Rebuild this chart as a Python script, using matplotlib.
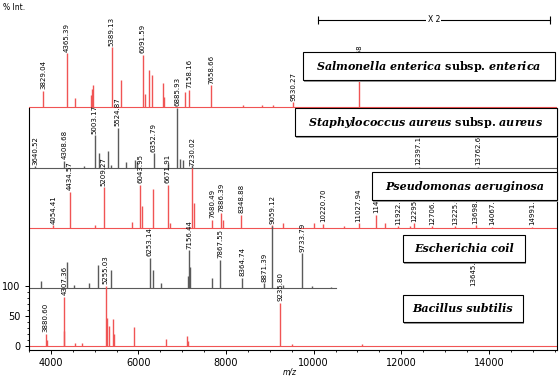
import matplotlib
matplotlib.use("Agg")
import matplotlib.pyplot as plt
from matplotlib.patches import Rectangle
from matplotlib.ticker import MultipleLocator, FixedLocator

plt.rcParams["mathtext.fontset"] = "custom"
plt.rcParams["mathtext.it"] = "DejaVu Serif:italic:bold"
plt.rcParams["mathtext.rm"] = "DejaVu Serif:bold"

# peaks per spectrum: m/z, relative intensity (%), peak label ('' = none)
sal_mz = [3829.04, 4365.39, 4550, 4910, 4940, 4965, 5389.13, 5600, 6091.59, 6150,
          6240, 6310, 6555, 6590, 7060, 7158.16, 7658.66, 8380, 8830, 9080, 9530.27, 11032.68]
sal_int = [27, 90, 15, 20, 30, 37, 100, 45, 87, 22, 62, 53, 40, 17, 25, 29, 36, 4, 4, 3, 8, 45]
sal_lab = ["3829.04", "4365.39", "", "", "", "", "5389.13", "", "6091.59", "", "", "", "", "",
           "", "7158.16", "7658.66", "", "", "", "9530.27", "11032.68"]

sta_mz = [3640.52, 4308.68, 4760, 5003.17, 5100, 5300, 5370, 5524.87, 5710, 5920, 5970,
          6352.79, 6671.91, 6885.93, 6940, 7010, 7230.02, 12397.15, 13762.64]
sta_int = [3, 12, 3, 55, 25, 28, 5, 67, 10, 14, 10, 25, 8, 100, 15, 14, 5, 2, 2]
sta_lab = ["3640.52", "4308.68", "", "5003.17", "", "", "", "5524.87", "", "", "",
           "6352.79", "", "6885.93", "", "", "", "12397.15", "13762.64"]

pse_mz = [4054.41, 4434.57, 5000, 5209.27, 5850, 6043.95, 6090, 6330, 6671.91, 6720,
          7230.02, 7270, 7680.49, 7886.39, 7940, 8348.88, 9059.12, 9300, 10000, 10220.70,
          10700, 11027.94, 11420.56, 11620, 11922.72, 12190, 12295.06, 12706.04, 13225.63,
          13698.40, 14067.85, 14991.83]
pse_int = [5, 60, 5, 68, 10, 72, 37, 65, 72, 8, 100, 42, 14, 25, 14, 22, 5, 8, 8, 7,
           3, 8, 22, 8, 3, 3, 8, 3, 3, 5, 2, 2]
pse_lab = ["4054.41", "4434.57", "", "5209.27", "", "6043.95", "", "", "6671.91", "",
           "7230.02", "", "7680.49", "7886.39", "", "8348.88", "", "", "", "10220.70",
           "", "11027.94", "11420.56", "", "11922.72", "", "12295.06", "12706.04", "13225.63",
           "13698.40", "14067.85", "14991.83"]

eco_mz = [3772, 4365, 4520, 4868, 5073, 5370, 6253.14, 6320, 6520, 7120, 7156.44, 7180,
          7676, 7867.55, 8364.74, 8871.39, 9059.12, 9300, 9733.79, 9950, 10400, 13645.05]
eco_int = [12, 43, 5, 8, 38, 30, 50, 30, 8, 20, 63, 35, 17, 47, 17, 8, 104, 5, 58, 4, 2, 0]
eco_lab = ["", "", "", "", "", "", "6253.14", "", "", "", "7156.44", "", "", "7867.55",
           "8364.74", "8871.39", "9059.12", "", "9733.79", "", "", "13645.05"]

bac_mz = [3880.60, 3910, 4290, 4307.36, 4560, 4700, 5255.03, 5290, 5320, 5416, 5450,
          5895, 6625, 7105, 7140, 9235.80, 9500, 11100]
bac_int = [20, 10, 25, 82, 5, 5, 100, 47, 33, 45, 20, 32, 12, 17, 8, 72, 3, 3]
bac_lab = ["3880.60", "", "", "4307.36", "", "", "5255.03", "", "", "", "", "", "", "",
           "", "9235.80", "", ""]

names = [r"$\mathit{Salmonella\ enterica}$ subsp. $\mathit{enterica}$",
         r"$\mathit{Staphylococcus\ aureus}$ subsp. $\mathit{aureus}$",
         "Pseudomonas aeruginosa", "Escherichia coil", "Bacillus subtilis"]

RED = "#f05454"
GRAY = "#5a5a5a"
XMIN, XMAX = 3500, 15555
SCALE = 0.6  # plot units per %
num_font = ["Liberation Sans Narrow", "DejaVu Sans"]

fig = plt.figure(figsize=(5.6, 3.8), dpi=100)
ax = fig.add_axes([29 / 560, 30 / 380, 528 / 560, 350 / 380])
ax.set_xlim(XMIN, XMAX)
ax.set_ylim(-4, 346)

spectra = [
    (sal_mz, sal_int, sal_lab, 239, RED, XMAX),
    (sta_mz, sta_int, sta_lab, 178, GRAY, XMAX),
    (pse_mz, pse_int, pse_lab, 118, RED, XMAX),
    (eco_mz, eco_int, eco_lab, 58, GRAY, 10500),
    (bac_mz, bac_int, bac_lab, 0, RED, XMAX),
]

for mz, inten, lab, base, col, xend in spectra:
    ax.plot([XMIN, xend], [base, base], color=col, lw=0.8, zorder=2)
    tops = [base + v * SCALE for v in inten]
    ax.vlines(mz, base, tops, color=col, lw=1.0, zorder=2)
    for m, t, s in zip(mz, tops, lab):
        if s:
            ax.text(m, t + 1.5, s, rotation=90, ha="center", va="bottom",
                    fontsize=5, family=num_font, zorder=3)

# label boxes (m/z left, m/z right, y bottom, y top)
boxes = [(9753, 15507, 266, 294), (9571, 15553, 210, 238), (11329, 15553, 146, 174),
         (12037, 14822, 84, 111), (12037, 14776, 24, 51)]
for (x0, x1, y0, y1), nm in zip(boxes, names):
    ax.add_patch(Rectangle((x0 + 35, y0 - 1.5), x1 - x0, y1 - y0, fc="#999999",
                           ec="none", zorder=4, clip_on=False))
    ax.add_patch(Rectangle((x0, y0), x1 - x0, y1 - y0, fc="white", ec="black",
                           lw=0.8, zorder=5, clip_on=False))
    style = "normal" if "$" in nm else "italic"
    ax.text((x0 + x1) / 2, (y0 + y1) / 2, nm, ha="center", va="center",
            fontsize=8, family="DejaVu Serif", weight="bold", style=style, zorder=6)

# X2 bar
ax.plot([10096, 15393], [326, 326], color="black", lw=0.8, zorder=4)
ax.vlines([10096, 15393], 322, 330, color="black", lw=0.8, zorder=4)
ax.text(12745, 326, "X 2", ha="center", va="center", fontsize=5.5,
        family=num_font, bbox=dict(fc="white", ec="none", pad=1), zorder=5)

ax.spines["top"].set_visible(False)
ax.spines["left"].set_bounds(-4, 238)
ax.spines["right"].set_bounds(-4, 238)
for s in ax.spines.values():
    s.set_linewidth(0.8)

ax.xaxis.set_major_locator(MultipleLocator(2000))
ax.xaxis.set_minor_locator(MultipleLocator(500))
ax.yaxis.set_major_locator(FixedLocator([0, 30, 60]))
ax.yaxis.set_minor_locator(FixedLocator([v * SCALE for v in range(0, 101, 10)]))
ax.set_yticklabels(["0", "50", "100"])
ax.tick_params(which="major", length=3, width=0.7, pad=3, labelsize=7)
ax.tick_params(which="minor", length=1.5, width=0.6)
for t in ax.get_xticklabels() + ax.get_yticklabels():
    t.set_family(num_font)

fig.text(3 / 560, 1 - 3 / 380, "% Int.", ha="left", va="top", fontsize=5.5, family=num_font)
fig.text(290 / 560, 8 / 380, "m/z", ha="center", va="center", fontsize=5.5,
         style="italic", family=num_font)

fig.savefig("out.png", dpi=100)
